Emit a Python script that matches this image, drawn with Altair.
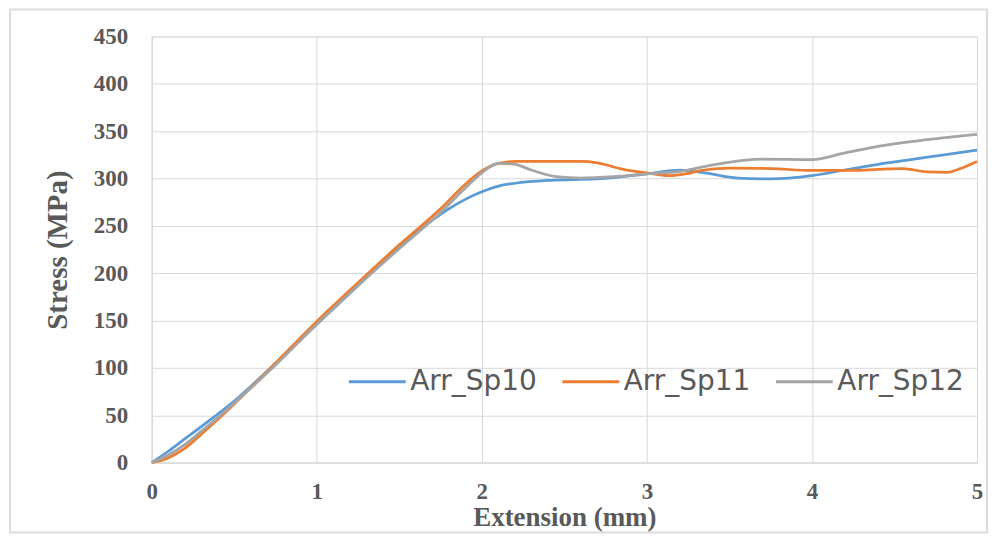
import altair as alt
import pandas as pd

# Series data
sp10_x = [0, 0.1, 0.2, 0.3, 0.5, 0.75, 1.0, 1.25, 1.5, 1.7, 1.8, 1.9, 2.0, 2.1, 2.2, 2.4, 2.6, 2.8, 3.0, 3.2, 3.35, 3.55, 3.75, 4.0, 4.2, 4.4, 4.6, 4.8, 5.0]
sp10_y = [0, 12, 25, 38, 65, 105, 146, 187, 228, 256, 268, 278, 286, 292, 295, 298, 299, 301, 305, 309, 306, 300.5, 299.5, 303, 309, 315, 320, 325, 330]

sp11_x = [0, 0.1, 0.2, 0.3, 0.5, 0.75, 1.0, 1.25, 1.5, 1.75, 1.9, 2.0, 2.1, 2.2, 2.4, 2.6, 2.7, 2.85, 3.0, 3.13, 3.2, 3.35, 3.5, 3.75, 4.0, 4.2, 4.55, 4.7, 4.82, 4.92, 5.0]
sp11_y = [0, 5, 15, 30, 62, 105, 149, 190, 230, 268, 294, 308, 316, 318, 318, 318, 316.5, 310, 306, 303, 304, 309, 311, 310.5, 308.5, 308.5, 310.5, 307, 306.5, 312, 318]

sp12_x = [0, 0.1, 0.2, 0.3, 0.5, 0.75, 1.0, 1.25, 1.5, 1.75, 1.9, 2.0, 2.1, 2.2, 2.3, 2.45, 2.6, 2.8, 3.0, 3.2, 3.4, 3.7, 4.0, 4.2, 4.4, 4.7, 5.0]
sp12_y = [0, 8, 19, 33, 63, 103, 146, 187, 226, 264, 290, 306, 316, 315, 309, 302, 300.5, 302, 305, 307.5, 314.5, 320.5, 320, 327, 334, 341, 346.5]

series_names = ["Arr_Sp10", "Arr_Sp11", "Arr_Sp12"]
series_colors = ["#5B9BD5", "#ED7D31", "#A5A5A5"]

rows = []
for name, xs, ys in zip(series_names, [sp10_x, sp11_x, sp12_x], [sp10_y, sp11_y, sp12_y]):
    for i, (a, b) in enumerate(zip(xs, ys)):
        rows.append({"series": name, "ext": a, "stress": b, "i": i})
df = pd.DataFrame(rows)

label_color = "#595959"
grid_color = "#d9d9d9"
serif = "Liberation Serif"

lines = alt.Chart(df).mark_line(strokeWidth=2.75, interpolate="monotone").encode(
    x=alt.X("ext:Q",
            scale=alt.Scale(domain=[0, 5], nice=False),
            axis=alt.Axis(title="Extension (mm)", values=[0, 1, 2, 3, 4, 5], format="d",
                          ticks=False, labelPadding=18, titlePadding=1,
                          labelFont=serif, labelFontSize=23, labelFontWeight="bold",
                          labelColor=label_color, titleFont=serif, titleFontSize=27,
                          titleFontWeight="bold", titleColor=label_color,
                          gridColor=grid_color, domainColor=grid_color, labelFlush=False)),
    y=alt.Y("stress:Q",
            scale=alt.Scale(domain=[0, 450], nice=False),
            axis=alt.Axis(title="Stress (MPa)", values=list(range(0, 451, 50)),
                          ticks=False, labelPadding=24, titlePadding=21,
                          labelFont=serif, labelFontSize=23, labelFontWeight="bold",
                          labelColor=label_color, titleFont=serif, titleFontSize=29,
                          titleFontWeight="bold", titleColor=label_color,
                          gridColor=grid_color, domainColor=grid_color)),
    color=alt.Color("series:N",
                    scale=alt.Scale(domain=series_names, range=series_colors),
                    legend=alt.Legend(title=None, orient="none", direction="horizontal",
                                      legendX=196, legendY=316, symbolType="stroke",
                                      symbolSize=3249, symbolStrokeWidth=3,
                                      labelFont="DejaVu Sans", labelFontSize=28,
                                      labelColor=label_color, labelOffset=3,
                                      columnPadding=19, padding=0)),
    order="i:Q",
    detail="series:N",
)

border = alt.Chart(pd.DataFrame({"a": [0]})).mark_rect(
    filled=False, stroke="#dcdcdc", strokeWidth=2
).encode(x=alt.value(-142), x2=alt.value(837), y=alt.value(-27), y2=alt.value(497))

chart = alt.layer(border, lines).properties(
    width=827, height=427,
    autosize=alt.AutoSizeParams(type="none"),
    padding={"left": 144, "top": 28, "right": 14, "bottom": 71},
).configure_view(stroke=grid_color).configure(background="white")

chart.save("out.html", embed_options={"renderer": "svg", "actions": False})
